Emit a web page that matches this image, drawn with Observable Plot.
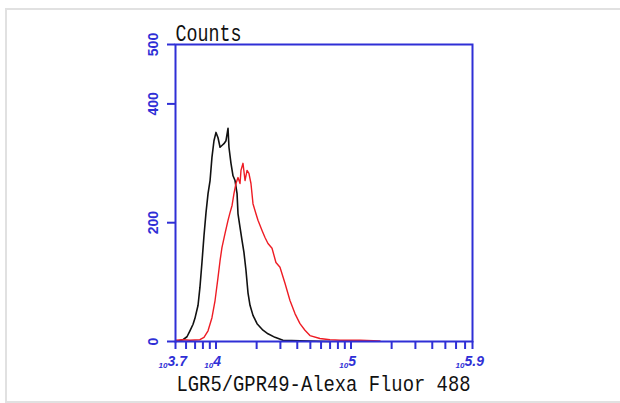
<!DOCTYPE html>
<html>
<head>
<meta charset="utf-8">
<script src="https://cdn.jsdelivr.net/npm/d3@7"></script>
<script src="https://cdn.jsdelivr.net/npm/@observablehq/plot@0.6"></script>
<style>
  html, body { margin: 0; padding: 0; background: #fff; width: 620px; height: 403px; overflow: hidden; }
  #border { position: absolute; left: 5px; top: 8px; width: 660px; height: 391px; border: 2px solid #e1e1e1; }
  #chart { position: absolute; left: 0; top: 0; }
</style>
</head>
<body>
<div id="border"></div>
<div id="chart"></div>
<script>
// Isotype control (black) – log10 fluorescence intensity and event counts
const blackExp = [3.700, 3.704, 3.756, 3.785, 3.807, 3.830, 3.844, 3.867, 3.881, 3.896, 3.911, 3.926, 3.941, 3.956, 3.970, 3.985, 4.000, 4.015, 4.030, 4.044, 4.059, 4.074, 4.089, 4.096, 4.111, 4.126, 4.141, 4.156, 4.163, 4.178, 4.193, 4.207, 4.222, 4.237, 4.252, 4.274, 4.304, 4.348, 4.385, 4.437, 4.496, 4.622, 4.844];
const blackCount = [0, 0, 3, 8, 18, 29, 39, 61, 91, 133, 178, 217, 249, 271, 310, 338, 352, 343, 327, 330, 333, 338, 359, 327, 300, 279, 271, 249, 215, 192, 170, 150, 120, 82, 61, 44, 30, 19, 13, 7, 2, 1, 0];

// LGR5/GPR49 stained sample (red)
const redExp = [3.700, 3.704, 3.756, 3.807, 3.881, 3.911, 3.941, 3.970, 3.993, 4.015, 4.030, 4.044, 4.067, 4.089, 4.104, 4.119, 4.133, 4.148, 4.163, 4.178, 4.185, 4.200, 4.215, 4.230, 4.244, 4.259, 4.274, 4.296, 4.311, 4.341, 4.363, 4.385, 4.415, 4.444, 4.474, 4.511, 4.548, 4.585, 4.622, 4.659, 4.696, 4.770, 4.844, 4.919, 5.067, 5.215];
const redCount = [2, 2, 3, 2, 3, 7, 18, 40, 69, 108, 136, 158, 182, 204, 217, 229, 249, 266, 276, 266, 288, 300, 271, 288, 283, 266, 232, 215, 204, 187, 175, 165, 157, 133, 125, 98, 69, 47, 30, 19, 10, 5, 3, 2, 2, 1];

// Axis ticks
const yTicks = [0, 200, 400, 500];
const xTicks = [10 ** 3.7, 6000, 7000, 8000, 9000, 10000, 20000, 30000, 40000, 50000, 60000, 70000, 80000, 90000, 100000, 200000, 300000, 400000, 500000, 600000, 700000, 10 ** 5.9];
const xLabelExps = ["3.7", "4", "5", "5.9"];

const xTitle = "LGR5/GPR49-Alexa Fluor 488";
const yTitle = "Counts";

const blue = "#2f2fd6";

const black = blackExp.map((e, i) => ({x: 10 ** e, y: blackCount[i]}));
const red = redExp.map((e, i) => ({x: 10 ** e, y: redCount[i]}));

// label geometry helpers (widths of exponent text)
const expWidth = s => s.replace(".", "").length * 7.5 + (s.includes(".") ? 3 : 0);
const labels = xLabelExps.map(s => {
  const we = expWidth(s);
  const dExp = -we / 2 + 1;
  return {x: 10 ** (+s), exp: s, d10: dExp - 9, dExp};
});

const font = "Liberation Sans, Arial, sans-serif";

const plot = Plot.plot({
  width: 620,
  height: 403,
  marginLeft: 175,
  marginRight: 148,
  marginTop: 44,
  marginBottom: 62,
  style: {background: "transparent", overflow: "visible"},
  x: {type: "log", domain: [10 ** 3.7, 10 ** 5.9]},
  y: {domain: [0, 500]},
  marks: [
    Plot.line(black, {x: "x", y: "y", stroke: "#111", strokeWidth: 1.6}),
    Plot.line(red, {x: "x", y: "y", stroke: "#ee1c24", strokeWidth: 1.4}),
    Plot.frame({stroke: blue, strokeWidth: 2}),
    Plot.axisY({ticks: yTicks, tickSize: 8, tickFormat: () => "", color: blue, strokeWidth: 2, label: null}),
    Plot.text(yTicks, {y: d => d, text: d => String(d), frameAnchor: "left", dx: -22, rotate: -90,
      textAnchor: "middle", lineAnchor: "middle", fill: blue, fontSize: 14, fontWeight: "bold",
      fontFamily: font}),
    Plot.axisX({ticks: xTicks, tickSize: 8, tickFormat: () => "", color: blue, strokeWidth: 2, label: null}),
    Plot.text(labels, {x: "x", text: () => "10", frameAnchor: "bottom", lineAnchor: "bottom",
      dy: 26, fill: blue, fontSize: 8, fontWeight: "bold", fontStyle: "italic", textAnchor: "start",
      fontFamily: font, className: "lab10"}),
    Plot.text(labels, {x: "x", text: "exp", frameAnchor: "bottom", lineAnchor: "bottom",
      dy: 24, fill: blue, fontSize: 14, fontWeight: "bold", fontStyle: "italic", textAnchor: "start",
      fontFamily: font, className: "labexp"}),
    Plot.text([xTitle], {text: d => d, frameAnchor: "bottom-left", textAnchor: "start", lineAnchor: "bottom",
      dx: 1, dy: 49, fill: "#111", fontSize: 22, fontFamily: "Liberation Mono, monospace", className: "xtitle"}),
    Plot.text([yTitle], {text: d => d, frameAnchor: "top-left", textAnchor: "start", lineAnchor: "bottom",
      dx: 0, dy: -4, fill: "#111", fontSize: 23, fontFamily: "Liberation Mono, monospace", className: "ytitle"})
  ]
});

document.getElementById("chart").appendChild(plot);

// shift composite tick labels so each "10^e" group sits on its tick
const svg = d3.select(plot);
svg.selectAll(".lab10 text").each(function(d, i) {
  const el = d3.select(this);
  el.attr("transform", (el.attr("transform") || "") + ` translate(${labels[i].d10},0)`);
});
svg.selectAll(".labexp text").each(function(d, i) {
  const el = d3.select(this);
  el.attr("transform", (el.attr("transform") || "") + ` translate(${labels[i].dExp},0)`);
});
svg.selectAll(".xtitle text").attr("textLength", 294).attr("lengthAdjust", "spacingAndGlyphs");
svg.selectAll(".ytitle text").attr("textLength", 66).attr("lengthAdjust", "spacingAndGlyphs");
</script>
</body>
</html>
